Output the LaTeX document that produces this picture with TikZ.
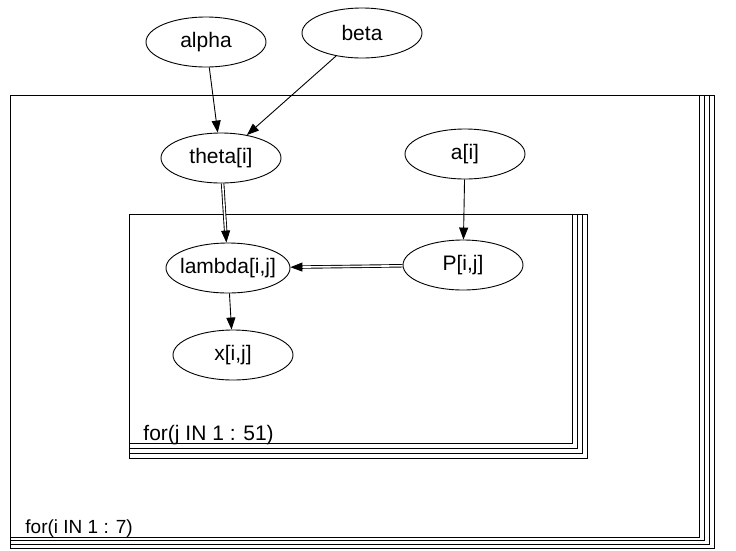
\documentclass[tikz,border=0pt]{standalone}
\usepackage{fontspec}
\setmainfont{Liberation Sans}
\usetikzlibrary{arrows.meta,shapes.geometric}

\begin{document}
\begin{tikzpicture}[x=1pt,y=-1pt,line width=0.9pt,
  var/.style={draw,ellipse,minimum width=120pt,minimum height=50pt,inner sep=0pt,
    font=\fontsize{21}{24}\selectfont},
  platelabel/.style={anchor=base west,inner sep=0pt,font=\fontsize{21}{24}\selectfont},
  link/.style={-{Triangle[length=12pt,width=9pt]}},
  dlink/.style={link,double,double distance=1.6pt}]
\useasboundingbox (0,0) rectangle (736,550);
% plates, stacked copies behind
\foreach \k in {3,2,1,0}
  \draw[fill=white] (10,95) rectangle (699+5*\k,537+3.7*\k);
\foreach \k in {3,2,1,0}
  \draw[fill=white] (129,214) rectangle (572+5*\k,443+5*\k);
\node[platelabel,font=\fontsize{19}{22}\selectfont] (iplate) at (25,533) {for(i IN 1 : 7)};
\node[platelabel] (jplate) at (143,440) {for(j IN 1 : 51)};
% variables
\node[var] (alpha)  at (206,42)  {alpha};
\node[var] (beta)   at (362,33)  {beta};
\node[var] (theta)  at (221,158) {theta[i]};
\node[var] (a)      at (465,154) {a[i]};
\node[var,minimum width=124pt,inner xsep=-5pt] (lambda) at (228,268) {lambda[i,j]};
\node[var] (P)      at (463,265) {P[i,j]};
\node[var] (x)      at (233,355) {x[i,j]};
% edges
\draw[link]  (alpha)  -- (theta);
\draw[link]  (beta)   -- (theta);
\draw[dlink] (theta)  -- (lambda);   % logical link
\draw[link]  (a)      -- (P);
\draw[dlink] (P)      -- (lambda);   % logical link
\draw[link]  (lambda) -- (x);
\end{tikzpicture}
\end{document}
